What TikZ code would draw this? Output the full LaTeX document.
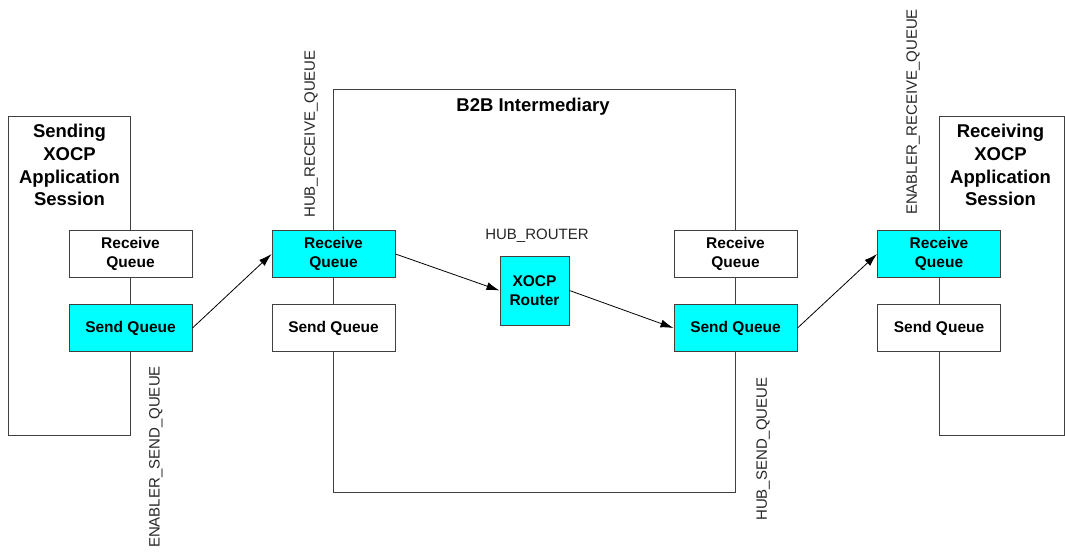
\documentclass[tikz,border=0pt]{standalone}
\usepackage{fontspec}
\setmainfont{Liberation Sans}
\usetikzlibrary{arrows.meta}
\definecolor{qcyan}{HTML}{00FFFF}
\definecolor{lgray}{HTML}{404040}
\tikzset{
  frame/.style={draw=lgray, line width=1pt},
  queue/.style={draw=lgray, line width=1pt, fill=white, inner sep=0pt, minimum width=123pt, minimum height=47pt, align=center, font=\bfseries\fontsize{15.5}{19}\selectfont},
  active/.style={fill=qcyan},
  title/.style={inner sep=0pt, align=center, anchor=north, font=\bfseries\fontsize{18.5}{22.7}\selectfont},
  tag/.style={inner sep=0pt, font=\fontsize{15}{17}\selectfont, text=black!85},
  flow/.style={draw=black, line width=0.8pt, -{Latex[length=13pt,width=8pt]}}
}
\begin{document}
\begin{tikzpicture}[x=1pt, y=-1pt]
\useasboundingbox (0,0) rectangle (1065,552);
% frames
\draw[frame] (8,116) rectangle (130.5,435.5);
\draw[frame] (333.5,89) rectangle (735.5,492);
\draw[frame] (939,116) rectangle (1064,435.5);
% titles
\node[title] (sendtitle) at (69.5,124) {Sending\\XOCP\\Application\\Session};
\node[title] (recvtitle) at (1000.5,124) {Receiving\\XOCP\\Application\\Session};
\node[title] (b2btitle) at (533,98) {B2B Intermediary};
% tags
\node[tag, rotate=90] (t1) at (311,134) {HUB\_RECEIVE\_QUEUE};
\node[tag, rotate=90] (t2) at (156,457) {ENABLER\_SEND\_QUEUE};
\node[tag, rotate=90] (t3) at (763,449) {HUB\_SEND\_QUEUE};
\node[tag, rotate=90] (t4) at (913,112) {ENABLER\_RECEIVE\_QUEUE};
\node[tag] (t5) at (537,236) {HUB\_ROUTER};
% queues
\node[queue] (lrq) at (130.5,254) {Receive\\Queue};
\node[queue, active] (lsq) at (130.5,328) {Send Queue};
\node[queue, active] (hrq) at (333.5,254) {Receive\\Queue};
\node[queue] (hsq1) at (333.5,328) {Send Queue};
\node[queue] (hrq2) at (735.5,254) {Receive\\Queue};
\node[queue, active] (hsq) at (735.5,328) {Send Queue};
\node[queue, active] (rrq) at (939,254) {Receive\\Queue};
\node[queue] (rsq) at (939,328) {Send Queue};
\node[queue, active, minimum width=69pt, minimum height=69pt] (router) at (534.5,290.5) {XOCP\\Router};
% flows
\draw[flow] (lsq.east) -- (hrq.west);
\draw[flow] (hrq.east) -- (router.west);
\draw[flow] (router.east) -- (hsq.west);
\draw[flow] (hsq.east) -- (rrq.west);
\end{tikzpicture}
\end{document}
